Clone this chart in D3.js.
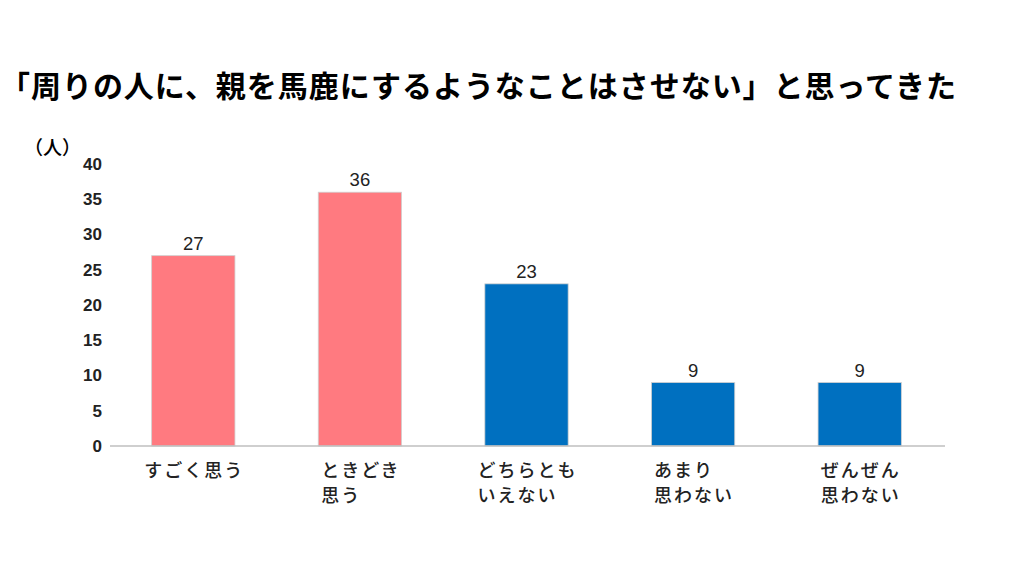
<!DOCTYPE html>
<html>
<head>
<meta charset="utf-8">
<script src="https://cdn.jsdelivr.net/npm/d3@7"></script>
<style>
  body { margin: 0; background: #fff; }
  svg { display: block; }
</style>
</head>
<body>
<div id="chart"></div>
<script>
// Chart data
var categories = [["すごく思う"], ["ときどき", "思う"], ["どちらとも", "いえない"], ["あまり", "思わない"], ["ぜんぜん", "思わない"]];
var values = [27, 36, 23, 9, 9];
var groups = ["agree", "agree", "other", "other", "other"];
var yTicks = [0, 5, 10, 15, 20, 25, 30, 35, 40];
var titleText = "「周りの人に、親を馬鹿にするようなことはさせない」と思ってきた";
var unitText = "（人）";

var width = 1024, height = 576;
var margin = { top: 164, right: 81, bottom: 130, left: 110 };
var plotW = width - margin.left - margin.right;
var plotH = height - margin.top - margin.bottom;

var svg = d3.select("#chart")
    .append("svg")
    .attr("width", width)
    .attr("height", height);

// Title
svg.append("text")
    .attr("x", 0)
    .attr("y", 97)
    .attr("font-family", "'Noto Sans CJK JP', sans-serif")
    .attr("font-weight", "bold")
    .attr("font-size", 30)
    .attr("fill", "#000")
    .attr("textLength", 956)
    .attr("lengthAdjust", "spacing")
    .text(titleText);

// Unit label
svg.append("text")
    .attr("x", 24)
    .attr("y", 155)
    .attr("font-family", "'Noto Sans CJK JP', sans-serif")
    .attr("font-size", 19)
    .attr("font-weight", 500)
    .attr("fill", "#000")
    .text(unitText);

var chartGroup = svg.append("g")
    .attr("transform", `translate(${margin.left}, ${margin.top})`);

var xScale = d3.scaleBand()
    .domain(d3.range(categories.length))
    .range([0, plotW])
    .paddingInner(0.5)
    .paddingOuter(0.25);

var yScale = d3.scaleLinear()
    .domain([0, 40])
    .range([plotH, 0]);

var color = d3.scaleOrdinal()
    .domain(["agree", "other"])
    .range(["#ff7a80", "#0070c0"]);

// Y axis labels (no line)
var leftAxis = d3.axisLeft(yScale)
    .tickValues(yTicks)
    .tickSize(0)
    .tickPadding(8);

var yAxis = chartGroup.append("g").call(leftAxis);
yAxis.select(".domain").remove();
yAxis.selectAll("text")
    .attr("font-family", "'Liberation Sans', Arial, sans-serif")
    .attr("font-weight", "bold")
    .attr("font-size", 17)
    .attr("fill", "#222");

// Bars
chartGroup.selectAll("rect.bar")
    .data(values)
    .enter()
    .append("rect")
    .attr("class", "bar")
    .attr("x", (d, i) => xScale(i))
    .attr("y", d => yScale(d))
    .attr("width", xScale.bandwidth())
    .attr("height", d => plotH - yScale(d))
    .attr("fill", (d, i) => color(groups[i]))
    .attr("stroke", "#d0d0d0")
    .attr("stroke-width", 0.8);

// Value labels
chartGroup.selectAll("text.value")
    .data(values)
    .enter()
    .append("text")
    .attr("class", "value")
    .attr("x", (d, i) => xScale(i) + xScale.bandwidth() / 2)
    .attr("y", d => yScale(d) - 6)
    .attr("text-anchor", "middle")
    .attr("font-family", "'Liberation Sans', Arial, sans-serif")
    .attr("font-size", 18.5)
    .attr("fill", "#222")
    .text(d => d);

// Baseline
chartGroup.append("line")
    .attr("x1", 0)
    .attr("x2", plotW + 2)
    .attr("y1", plotH)
    .attr("y2", plotH)
    .attr("stroke", "#bfbfbf")
    .attr("stroke-width", 1.5);

// Category labels: block centred on band, lines left aligned
categories.forEach(function(lines, i) {
    var cx = xScale(i) + xScale.bandwidth() / 2;
    var t = chartGroup.append("text")
        .attr("font-family", "'Noto Sans CJK JP', sans-serif")
        .attr("font-size", 18)
        .attr("font-weight", 500)
        .attr("letter-spacing", 2)
        .attr("fill", "#222");
    lines.forEach(function(line, j) {
        t.append("tspan")
            .attr("y", plotH + 31 + j * 25)
            .attr("x", 0)
            .text(line);
    });
    var maxW = 0;
    t.selectAll("tspan").each(function() {
        maxW = Math.max(maxW, this.getComputedTextLength());
    });
    t.selectAll("tspan").attr("x", cx - (maxW - 2) / 2);
});
</script>
</body>
</html>
